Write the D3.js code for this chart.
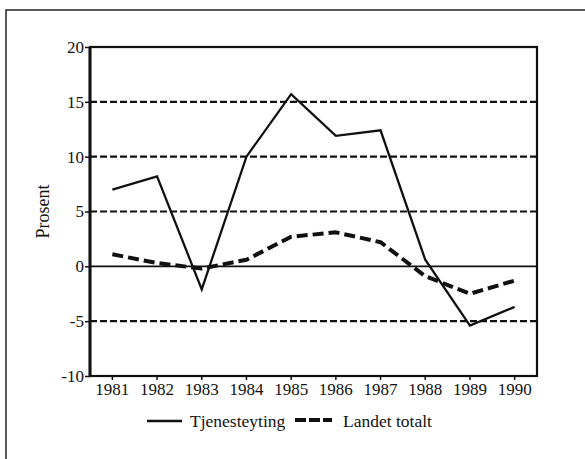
<!DOCTYPE html>
<html>
<head>
<meta charset="utf-8">
<script src="https://cdn.jsdelivr.net/npm/d3@7"></script>
<style>
  body { margin: 0; background: #fff; }
  svg { display: block; font-family: "Liberation Serif", "DejaVu Serif", serif; }
</style>
</head>
<body>
<div id="chart"></div>
<script>
const years = [1981, 1982, 1983, 1984, 1985, 1986, 1987, 1988, 1989, 1990];
const tjenesteyting = [7.0, 8.2, -2.1, 10.0, 15.7, 11.9, 12.4, 0.6, -5.4, -3.7];
const landetTotalt = [1.1, 0.3, -0.2, 0.6, 2.7, 3.1, 2.2, -0.9, -2.5, -1.3];
const yTicks = [-10, -5, 0, 5, 10, 15, 20];
const gridValues = [15, 10, 5, -5];

const W = 585, H = 459;
const margin = { top: 47, right: 48, bottom: 83, left: 90 };
const width = W - margin.left - margin.right;
const height = H - margin.top - margin.bottom;
const serif = '"Liberation Serif", "DejaVu Serif", serif';

const svg = d3.select('#chart').append('svg')
  .attr('width', W)
  .attr('height', H);

// outer frame (only left and top edges fall inside the picture)
svg.append('path')
  .attr('d', `M6,${H} L6,10 L${W},10`)
  .attr('fill', 'none')
  .attr('stroke', '#222')
  .attr('stroke-width', 1.5);

const g = svg.append('g').attr('transform', `translate(${margin.left},${margin.top})`);

const x = d3.scaleBand().domain(years).range([0, width]);
const y = d3.scaleLinear().domain([-10, 20]).range([height, 0]);
const xc = d => x(d) + x.bandwidth() / 2;

// dashed gridlines
g.append('g')
  .selectAll('line')
  .data(gridValues)
  .join('line')
  .attr('x1', 0).attr('x2', width)
  .attr('y1', d => y(d)).attr('y2', d => y(d))
  .attr('stroke', '#111')
  .attr('stroke-width', 2.2)
  .attr('stroke-dasharray', '7,3');

// zero line
g.append('line')
  .attr('x1', 0).attr('x2', width)
  .attr('y1', y(0)).attr('y2', y(0))
  .attr('stroke', '#111')
  .attr('stroke-width', 1.6);

// axes
const yAxis = g.append('g')
  .call(d3.axisLeft(y).tickValues(yTicks).tickSize(5).tickPadding(1).tickFormat(d => String(d)))
  .attr('font-family', serif)
  .attr('font-size', 17);
yAxis.select('.domain').remove();
yAxis.selectAll('.tick line').attr('stroke', '#111').attr('stroke-width', 1.5);
yAxis.selectAll('.tick text').attr('fill', '#111');

const xAxis = g.append('g')
  .attr('transform', `translate(0,${height})`)
  .call(d3.axisBottom(x).tickSize(4).tickPadding(3))
  .attr('font-family', serif)
  .attr('font-size', 17);
xAxis.select('.domain').remove();
xAxis.selectAll('.tick line').attr('stroke', '#111').attr('stroke-width', 1.5);
xAxis.selectAll('.tick text').attr('fill', '#111');

// plot border
g.append('rect')
  .attr('width', width).attr('height', height)
  .attr('fill', 'none')
  .attr('stroke', '#111')
  .attr('stroke-width', 2.2);
g.append('line')
  .attr('x1', 0).attr('x2', 0).attr('y1', 0).attr('y2', height)
  .attr('stroke', '#111').attr('stroke-width', 3);

// series
const line = d3.line().x((d, i) => xc(years[i])).y(d => y(d));

g.append('path')
  .datum(landetTotalt)
  .attr('d', line)
  .attr('fill', 'none')
  .attr('stroke', '#111')
  .attr('stroke-width', 4)
  .attr('stroke-linejoin', 'round')
  .attr('stroke-dasharray', '11,5');

g.append('path')
  .datum(tjenesteyting)
  .attr('d', line)
  .attr('fill', 'none')
  .attr('stroke', '#111')
  .attr('stroke-width', 2.3)
  .attr('stroke-linejoin', 'miter');

// y label
svg.append('text')
  .attr('transform', `translate(49,${margin.top + height / 2}) rotate(-90)`)
  .attr('text-anchor', 'middle')
  .attr('font-size', 18)
  .attr('fill', '#111')
  .text('Prosent');

// legend
const legend = svg.append('g');
legend.append('line')
  .attr('x1', 147).attr('x2', 182).attr('y1', 421).attr('y2', 421)
  .attr('stroke', '#111').attr('stroke-width', 2.3);
legend.append('text')
  .attr('x', 190).attr('y', 427)
  .attr('font-size', 17.5).attr('fill', '#111')
  .text('Tjenesteyting');
legend.append('line')
  .attr('x1', 295).attr('x2', 332).attr('y1', 420).attr('y2', 420)
  .attr('stroke', '#111').attr('stroke-width', 4)
  .attr('stroke-dasharray', '11,3');
legend.append('text')
  .attr('x', 343).attr('y', 427)
  .attr('font-size', 17.5).attr('fill', '#111')
  .text('Landet totalt');
</script>
</body>
</html>
